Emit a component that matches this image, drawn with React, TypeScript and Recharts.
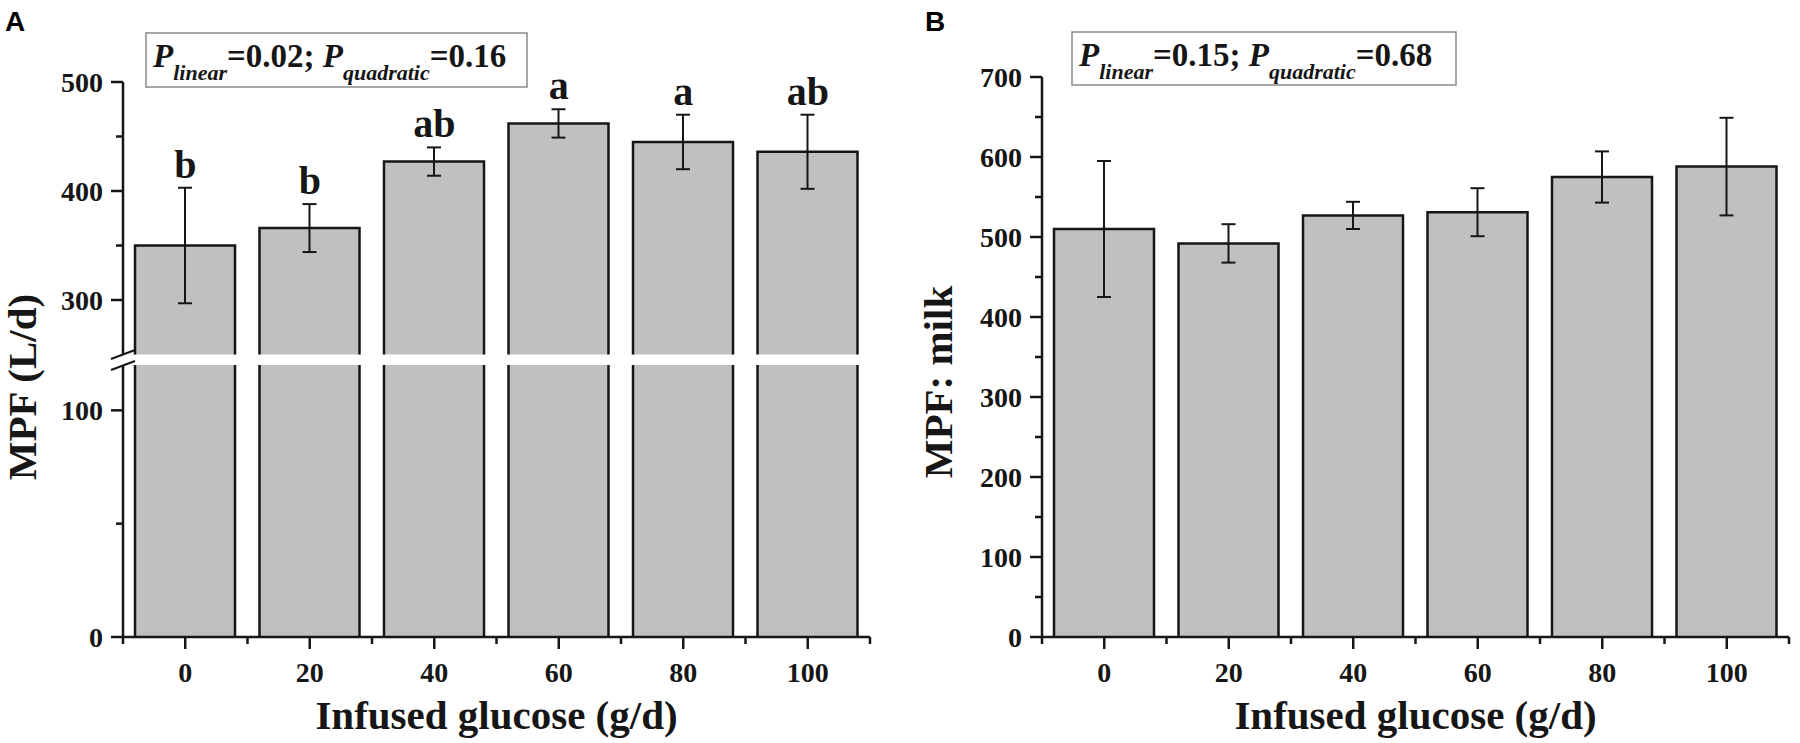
import React from 'react'
import { ComposedChart, Bar, ErrorBar, XAxis, YAxis, Line, LabelList, Label } from 'recharts'

const doses = ['0', '20', '40', '60', '80', '100']
// panel A: MPF (L/d)
const mpfLiters = [350, 366, 427, 462, 445, 436]
const mpfLitersSe = [53, 22, 13, 13, 25, 34]
const letters = ['b', 'b', 'ab', 'a', 'a', 'ab']
// panel B: MPF: milk
const mpfMilk = [510, 492, 527, 531, 575, 588]
const mpfMilkSe = [85, 24, 17, 30, 32, 61]

const aUpperTicks = [300, 350, 400, 450, 500]
const aLowerTicks = [0, 50, 100]
const bTicks = [0, 50, 100, 150, 200, 250, 300, 350, 400, 450, 500, 550, 600, 650, 700]

const pA = { linear: '0.02', quadratic: '0.16' }
const pB = { linear: '0.15', quadratic: '0.68' }

const FONT = "'Liberation Serif', 'Times New Roman', serif"
const INK = '#161616'
const PLOT_W = 747
const HALF_BAND = PLOT_W / doses.length / 2

const dataA = doses.map((dose, i) => ({
  dose,
  mpf: mpfLiters[i],
  se: mpfLitersSe[i],
  capTop: mpfLiters[i] + mpfLitersSe[i],
  letter: letters[i],
}))
const dataB = doses.map((dose, i) => ({ dose, mpf: mpfMilk[i], se: mpfMilkSe[i] }))

// bar with outline on the sides and top only (the base sits on the axis / break)
function BarShape(props: any) {
  const { x, y, width, height } = props
  if (width == null || height == null) return null
  return (
    <g>
      <rect x={x} y={y} width={width} height={height} fill="#c0c0c0" />
      <path d={`M${x},${y + height} V${y} H${x + width} V${y + height}`} fill="none" stroke={INK} strokeWidth={2.5} />
    </g>
  )
}

function XTick(props: any) {
  const { x, y, payload, index, visibleTicksCount } = props
  return (
    <g>
      <line x1={x} x2={x} y1={y} y2={y + 12} stroke={INK} strokeWidth={2.5} />
      <line x1={x - HALF_BAND} x2={x - HALF_BAND} y1={y} y2={y + 7} stroke={INK} strokeWidth={2.5} />
      {index === visibleTicksCount - 1 && (
        <line x1={x + HALF_BAND} x2={x + HALF_BAND} y1={y} y2={y + 7} stroke={INK} strokeWidth={2.5} />
      )}
      <text x={x} y={y + 45} textAnchor="middle" fontFamily={FONT} fontWeight="bold" fontSize={28} fill={INK}>
        {payload.value}
      </text>
    </g>
  )
}

function YTick(props: any) {
  const { x, y, payload } = props
  const major = payload.value % 100 === 0
  return (
    <g>
      <line x1={x - (major ? 12 : 7)} x2={x} y1={y} y2={y} stroke={INK} strokeWidth={2.5} />
      {major && (
        <text x={x - 20} y={y} dy="0.35em" textAnchor="end" fontFamily={FONT} fontWeight="bold" fontSize={28} fill={INK}>
          {payload.value}
        </text>
      )}
    </g>
  )
}

const axisLine = { stroke: INK, strokeWidth: 2.5 }

function PBox({ x, y, w, h, p }: { x: number; y: number; w: number; h: number; p: { linear: string; quadratic: string } }) {
  return (
    <g>
      <rect x={x} y={y} width={w} height={h} fill="#fff" stroke="#8a8a8a" strokeWidth={1.5} />
      <text x={x + 7} y={y + 34} fontFamily={FONT} fontWeight="bold" fontSize={33} fill={INK}>
        <tspan fontStyle="italic">P</tspan>
        <tspan fontStyle="italic" fontSize={22} dy={13}>linear</tspan>
        <tspan dy={-13}>{`=${p.linear};\u00a0`}</tspan>
        <tspan fontStyle="italic">P</tspan>
        <tspan fontStyle="italic" fontSize={22} dy={13}>quadratic</tspan>
        <tspan dy={-13}>{`=${p.quadratic}`}</tspan>
      </text>
    </g>
  )
}

export default function App() {
  return (
    <div style={{ position: 'absolute', left: 0, top: 0, width: 1800, height: 743, background: '#fff' }}>
      {/* panel A, upper segment of the broken axis */}
      <div style={{ position: 'absolute', left: 0, top: 0 }}>
        <ComposedChart width={890} height={360} data={dataA} margin={{ top: 82, right: 20, bottom: 5.5, left: 63 }}>
          <XAxis dataKey="dose" type="category" hide />
          <YAxis
            type="number"
            domain={[250, 500]}
            ticks={aUpperTicks}
            interval={0}
            width={60}
            tickSize={0}
            tickMargin={0}
            tickLine={false}
            axisLine={axisLine}
            tick={<YTick />}
          />
          <Bar dataKey="mpf" barSize={100} shape={<BarShape />} isAnimationActive={false}>
            <ErrorBar dataKey="se" width={7} stroke={INK} strokeWidth={2} />
          </Bar>
          <Line dataKey="capTop" stroke="none" dot={false} activeDot={false} isAnimationActive={false}>
            <LabelList dataKey="letter" position="top" offset={10} fill={INK} fontSize={40} fontWeight="bold" fontFamily={FONT} />
          </Line>
        </ComposedChart>
      </div>
      {/* panel A, lower segment */}
      <div style={{ position: 'absolute', left: 0, top: 0 }}>
        <ComposedChart width={890} height={743} data={dataA} margin={{ top: 365, right: 20, bottom: 0, left: 63 }}>
          <XAxis
            dataKey="dose"
            type="category"
            height={106}
            interval={0}
            tickSize={0}
            tickMargin={0}
            tickLine={false}
            axisLine={axisLine}
            tick={<XTick />}
          >
            <Label value="Infused glucose (g/d)" position="insideBottom" offset={14} fill={INK} fontSize={41} fontWeight="bold" fontFamily={FONT} />
          </XAxis>
          <YAxis
            type="number"
            domain={[0, 120]}
            allowDataOverflow
            ticks={aLowerTicks}
            interval={0}
            width={60}
            tickSize={0}
            tickMargin={0}
            tickLine={false}
            axisLine={axisLine}
            tick={<YTick />}
          />
          <Bar dataKey="mpf" barSize={100} shape={<BarShape />} isAnimationActive={false} />
        </ComposedChart>
      </div>
      {/* panel B */}
      <div style={{ position: 'absolute', left: 900, top: 0 }}>
        <ComposedChart width={900} height={743} data={dataB} margin={{ top: 77, right: 11, bottom: 0, left: 82 }}>
          <XAxis
            dataKey="dose"
            type="category"
            height={106}
            interval={0}
            tickSize={0}
            tickMargin={0}
            tickLine={false}
            axisLine={axisLine}
            tick={<XTick />}
          >
            <Label value="Infused glucose (g/d)" position="insideBottom" offset={14} fill={INK} fontSize={41} fontWeight="bold" fontFamily={FONT} />
          </XAxis>
          <YAxis
            type="number"
            domain={[0, 700]}
            ticks={bTicks}
            interval={0}
            width={60}
            tickSize={0}
            tickMargin={0}
            tickLine={false}
            axisLine={axisLine}
            tick={<YTick />}
          />
          <Bar dataKey="mpf" barSize={100} shape={<BarShape />} isAnimationActive={false}>
            <ErrorBar dataKey="se" width={7} stroke={INK} strokeWidth={2} />
          </Bar>
        </ComposedChart>
      </div>
      <svg style={{ position: 'absolute', left: 0, top: 0, pointerEvents: 'none' }} width={1800} height={743}>
        <text x={5} y={31} fontFamily="'Liberation Sans', Arial, sans-serif" fontWeight="bold" fontSize={28} fill="#000">A</text>
        <text x={925} y={31} fontFamily="'Liberation Sans', Arial, sans-serif" fontWeight="bold" fontSize={28} fill="#000">B</text>
        <text transform="translate(36,387) rotate(-90)" textAnchor="middle" fontFamily={FONT} fontWeight="bold" fontSize={41} fill={INK}>
          MPF (L/d)
        </text>
        <text transform="translate(952,382) rotate(-90)" textAnchor="middle" fontFamily={FONT} fontWeight="bold" fontSize={41} fill={INK}>
          MPF: milk
        </text>
        {/* axis break marks */}
        <line x1={111} y1={359} x2={135} y2={350} stroke={INK} strokeWidth={2} />
        <line x1={111} y1={370} x2={135} y2={361} stroke={INK} strokeWidth={2} />
        <PBox x={146} y={33} w={381} h={54} p={pA} />
        <PBox x={1072} y={32} w={384} h={53} p={pB} />
      </svg>
    </div>
  )
}
